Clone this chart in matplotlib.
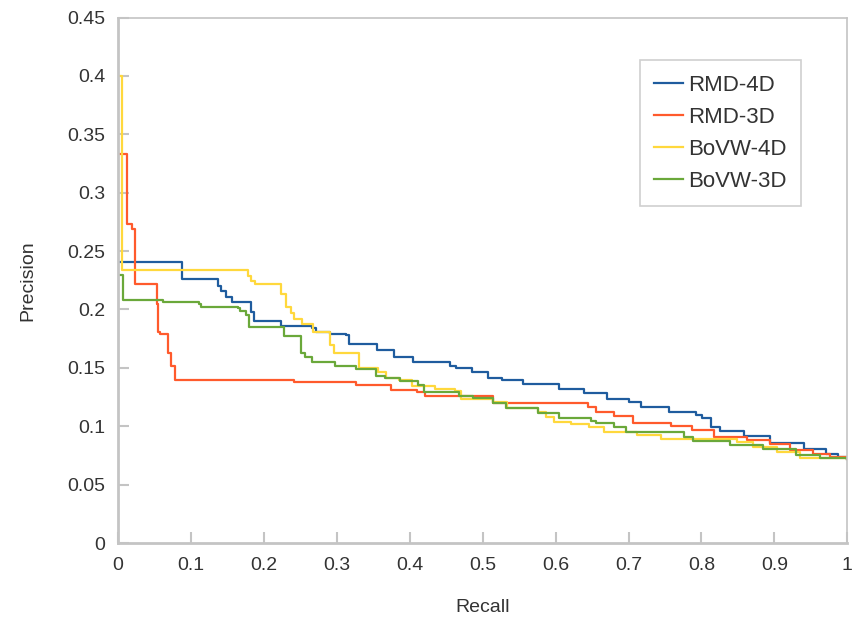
import numpy as np
import matplotlib
matplotlib.use("Agg")
import matplotlib.pyplot as plt

# precision / recall (step curves, value holds until next recall point)
rmd4_recall = [0, 0.088, 0.137, 0.141, 0.148, 0.157, 0.182, 0.186, 0.224, 0.266, 0.271,
               0.291, 0.313, 0.317, 0.355, 0.378, 0.405, 0.455, 0.464, 0.485, 0.508,
               0.526, 0.555, 0.605, 0.639, 0.671, 0.701, 0.717, 0.755, 0.792, 0.801,
               0.813, 0.826, 0.858, 0.894, 0.940, 0.971, 0.987, 1.0]
rmd4_prec = [0.2405, 0.2257, 0.220, 0.216, 0.211, 0.206, 0.198, 0.190, 0.186, 0.184, 0.181,
             0.179, 0.178, 0.1705, 0.165, 0.159, 0.155, 0.152, 0.1497, 0.1468, 0.1417,
             0.1397, 0.136, 0.1317, 0.1288, 0.1234, 0.121, 0.1163, 0.1125, 0.1097, 0.1074,
             0.0997, 0.0962, 0.0917, 0.0854, 0.0803, 0.0763, 0.0734, 0.072]

rmd3_recall = [0, 0.013, 0.019, 0.023, 0.053, 0.055, 0.058, 0.0686, 0.072, 0.0787, 0.2415,
               0.3265, 0.3747, 0.41, 0.421, 0.514, 0.644, 0.655, 0.680, 0.706, 0.758,
               0.787, 0.817, 0.862, 0.894, 0.921, 0.953, 0.976, 1.0]
rmd3_prec = [0.333, 0.273, 0.2688, 0.222, 0.2045, 0.181, 0.179, 0.1625, 0.152, 0.1394, 0.1382,
             0.1357, 0.1311, 0.129, 0.126, 0.1202, 0.1163, 0.1123, 0.1088, 0.1026, 0.1003,
             0.0968, 0.0911, 0.0883, 0.0846, 0.0797, 0.0763, 0.0734, 0.072]

bovw4_recall = [0, 0.0055, 0.178, 0.182, 0.188, 0.223, 0.231, 0.237, 0.2415, 0.252, 0.268,
                0.291, 0.296, 0.331, 0.357, 0.367, 0.385, 0.403, 0.435, 0.462, 0.471,
                0.514, 0.534, 0.576, 0.587, 0.598, 0.621, 0.646, 0.667, 0.712, 0.744,
                0.849, 0.871, 0.903, 0.935, 1.0]
bovw4_prec = [0.40, 0.234, 0.2288, 0.2245, 0.222, 0.2134, 0.202, 0.1968, 0.192, 0.1877, 0.181,
              0.1697, 0.163, 0.1497, 0.1468, 0.1417, 0.140, 0.1345, 0.132, 0.130, 0.123,
              0.121, 0.116, 0.1125, 0.108, 0.104, 0.102, 0.099, 0.0954, 0.0925, 0.0889,
              0.0868, 0.0825, 0.0782, 0.0726, 0.072]

bovw3_recall = [0, 0.0073, 0.062, 0.111, 0.114, 0.164, 0.167, 0.176, 0.179, 0.228, 0.251,
                0.257, 0.266, 0.298, 0.3265, 0.354, 0.366, 0.387, 0.412, 0.420, 0.467,
                0.487, 0.514, 0.532, 0.576, 0.605, 0.648, 0.655, 0.680, 0.696, 0.776,
                0.789, 0.839, 0.885, 0.930, 0.962, 1.0]
bovw3_prec = [0.2297, 0.2082, 0.206, 0.2048, 0.202, 0.201, 0.1988, 0.1954, 0.1848, 0.1774, 0.1626,
              0.1597, 0.1554, 0.1517, 0.1488, 0.1434, 0.1411, 0.139, 0.1354, 0.129, 0.126,
              0.124, 0.1197, 0.116, 0.1117, 0.1074, 0.1045, 0.1026, 0.0991, 0.0954, 0.0906,
              0.0877, 0.084, 0.0803, 0.0754, 0.0726, 0.072]

series = [
    ("RMD-4D", rmd4_recall, rmd4_prec, "#1f5c9e"),
    ("RMD-3D", rmd3_recall, rmd3_prec, "#ff5a2c"),
    ("BoVW-4D", bovw4_recall, bovw4_prec, "#ffd83c"),
    ("BoVW-3D", bovw3_recall, bovw3_prec, "#6aa83a"),
]

plt.rcParams['font.family'] = ['Liberation Sans', 'DejaVu Sans']
txt_col = "#333333"
grid_col = "#c4c4c4"

fig = plt.figure(figsize=(8.55, 6.21), dpi=100)
ax = fig.add_axes([0.138, 0.1256, 0.853, 0.8462])

for name, r, p, c in series:
    ax.step(r, p, where='post', color=c, lw=1.6, label=name)

ax.set_xlim(0, 1)
ax.set_ylim(0, 0.45)
ax.set_xticks(np.arange(0, 1.01, 0.1))
ax.set_yticks(np.arange(0, 0.451, 0.05))
ax.set_xticklabels(['0', '0.1', '0.2', '0.3', '0.4', '0.5', '0.6', '0.7', '0.8', '0.9', '1'])
ax.set_yticklabels(['0', '0.05', '0.1', '0.15', '0.2', '0.25', '0.3', '0.35', '0.4', '0.45'])

for s in ax.spines.values():
    s.set_color(grid_col)
    s.set_linewidth(1.2)
ax.spines['left'].set_linewidth(2)
ax.spines['bottom'].set_linewidth(2)

ax.tick_params(direction='in', length=8, width=1.5, color=grid_col,
               labelsize=14, labelcolor=txt_col)
ax.tick_params(axis='y', pad=9)
ax.tick_params(axis='x', pad=10)

ax.set_xlabel("Recall", fontsize=14, color=txt_col, labelpad=18)
ax.set_ylabel("Precision", fontsize=14, color=txt_col, labelpad=22)

leg = ax.legend(loc='upper right', bbox_to_anchor=(0.937, 0.919), borderaxespad=0,
                fancybox=False, frameon=True, fontsize=16, handlelength=1.3,
                handletextpad=0.25, labelspacing=0.5, borderpad=0.65)
leg.get_frame().set_edgecolor(grid_col)
leg.get_frame().set_linewidth(1.2)
for t in leg.get_texts():
    t.set_color(txt_col)

fig.savefig("out.png", dpi=100)
